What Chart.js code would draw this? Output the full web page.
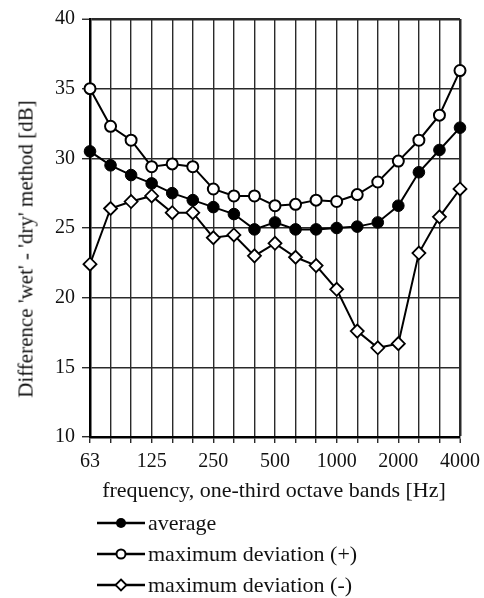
<!DOCTYPE html>
<html lang="en">
<head>
  <meta charset="UTF-8" />
  <title>Difference wet - dry method</title>
  <script src="https://cdn.jsdelivr.net/npm/chart.js"></script>
  <style>
    body {
      margin: 0;
      background: #fff;
      font-family: 'Liberation Serif', 'Times New Roman', serif;
      color: #111;
    }
    #wrap { position: relative; width: 484px; height: 598px; }
    #chartBox { position: absolute; left: 0; top: 0; width: 484px; height: 505px; }
    #yTitle {
      position: absolute; left: 26px; top: 249px;
      transform: translate(-50%, -50%) rotate(-90deg);
      white-space: nowrap; font-size: 21px;
    }
    #xTitle {
      position: absolute; left: 274px; top: 490px;
      transform: translate(-50%, -50%);
      white-space: nowrap; font-size: 22px;
    }
    .legend { position: absolute; left: 97px; top: 507px; font-size: 22px; }
    .legend div { height: 31px; display: flex; align-items: center; }
    .legend svg { margin-right: 3px; }
  </style>
</head>
<body>
  <div id="wrap">
    <div id="chartBox"><canvas id="chart"></canvas></div>
    <div id="yTitle">Difference 'wet' - 'dry' method [dB]</div>
    <div id="xTitle">frequency, one-third octave bands [Hz]</div>
    <div class="legend">
      <div><svg width="48" height="14"><line x1="0" y1="7" x2="48" y2="7" stroke="#000" stroke-width="2.4"/><circle cx="24" cy="7" r="5" fill="#000"/></svg>average</div>
      <div><svg width="48" height="14"><line x1="0" y1="7" x2="48" y2="7" stroke="#000" stroke-width="2.4"/><circle cx="24" cy="7" r="4.5" fill="#fff" stroke="#000" stroke-width="2"/></svg>maximum deviation (+)</div>
      <div><svg width="48" height="14"><line x1="0" y1="7" x2="48" y2="7" stroke="#000" stroke-width="2.4"/><polygon points="24,1.5 29.5,7 24,12.5 18.5,7" fill="#fff" stroke="#000" stroke-width="1.8"/></svg>maximum deviation (-)</div>
    </div>
  </div>

  <script>
    // one-third octave band centre frequencies [Hz]
    const bands = ['63', '80', '100', '125', '160', '200', '250', '315', '400', '500',
                   '630', '800', '1000', '1250', '1600', '2000', '2500', '3150', '4000'];
    const shownBands = ['63', '125', '250', '500', '1000', '2000', '4000'];

    const average = [30.5, 29.5, 28.8, 28.2, 27.5, 27.0, 26.5, 26.0, 24.9, 25.4,
                     24.9, 24.9, 25.0, 25.1, 25.4, 26.6, 29.0, 30.6, 32.2];
    const maxPlus = [35.0, 32.3, 31.3, 29.4, 29.6, 29.4, 27.8, 27.3, 27.3, 26.6,
                     26.7, 27.0, 26.9, 27.4, 28.3, 29.8, 31.3, 33.1, 36.3];
    const maxMinus = [22.4, 26.4, 26.9, 27.3, 26.1, 26.1, 24.3, 24.5, 23.0, 23.9,
                      22.9, 22.3, 20.6, 17.6, 16.4, 16.7, 23.2, 25.8, 27.8];

    const yTicks = [10, 15, 20, 25, 30, 35, 40];

    const serif = "'Liberation Serif', 'Times New Roman', serif";
    const gridColor = '#2a2a2a';

    new Chart(document.getElementById('chart'), {
      type: 'line',
      data: {
        labels: bands,
        datasets: [
          {
            label: 'maximum deviation (-)',
            data: maxMinus,
            borderColor: '#000', borderWidth: 2,
            pointStyle: 'rectRot', pointRadius: 6.5,
            pointBackgroundColor: '#fff', pointBorderColor: '#000', pointBorderWidth: 1.8,
            tension: 0
          },
          {
            label: 'maximum deviation (+)',
            data: maxPlus,
            borderColor: '#000', borderWidth: 2,
            pointStyle: 'circle', pointRadius: 5.5,
            pointBackgroundColor: '#fff', pointBorderColor: '#000', pointBorderWidth: 2,
            tension: 0
          },
          {
            label: 'average',
            data: average,
            borderColor: '#000', borderWidth: 2,
            pointStyle: 'circle', pointRadius: 5.8,
            pointBackgroundColor: '#000', pointBorderColor: '#000', pointBorderWidth: 1,
            tension: 0
          }
        ]
      },
      options: {
        responsive: true,
        maintainAspectRatio: false,
        animation: false,
        layout: { padding: { top: 18, right: 24, left: 0, bottom: 0 } },
        plugins: { legend: { display: false }, tooltip: { enabled: false } },
        scales: {
          x: {
            type: 'category',
            offset: false,
            afterFit: s => { s.height = 68; s.paddingRight = 0; s.paddingLeft = 0; },
            border: { display: true, color: '#000', width: 2.5 },
            grid: {
              color: gridColor,
              lineWidth: ctx => ctx.index === bands.length - 1 ? 2.5 : 1.4,
              tickLength: 6,
              tickColor: gridColor,
              tickWidth: 1.4
            },
            ticks: {
              autoSkip: false, maxRotation: 0, padding: 7,
              color: '#111',
              font: { family: serif, size: 20 },
              callback: (v, i) => shownBands.includes(bands[i]) ? bands[i] : ''
            }
          },
          y: {
            min: 10, max: 40,
            afterFit: s => { s.width = 90; },
            afterBuildTicks: s => { s.ticks = yTicks.map(v => ({ value: v })); },
            border: { display: true, color: '#000', width: 2.5 },
            grid: {
              color: gridColor,
              lineWidth: ctx => ctx.tick && ctx.tick.value === 40 ? 2.5 : 1.4,
              tickLength: 8,
              tickColor: gridColor,
              tickWidth: 1.4
            },
            ticks: {
              padding: 7,
              color: '#111',
              font: { family: serif, size: 20 }
            }
          }
        }
      }
    });
  </script>
</body>
</html>
